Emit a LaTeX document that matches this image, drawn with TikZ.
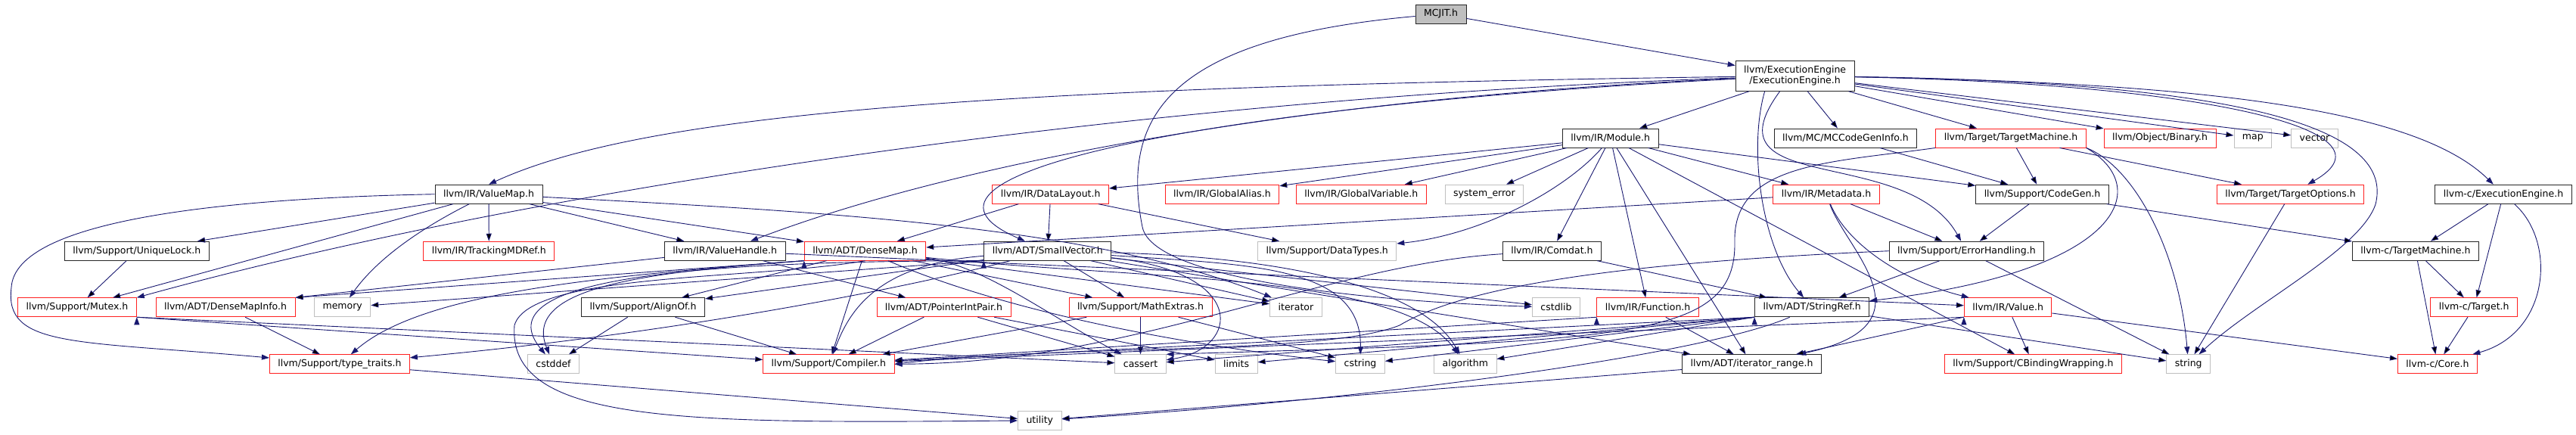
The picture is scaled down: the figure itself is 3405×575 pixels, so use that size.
\documentclass[tikz,border=0pt]{standalone}
\usepackage{fontspec}
\setmainfont{DejaVu Sans}
\usepackage{tikz}
\usetikzlibrary{arrows.meta,calc,positioning}
\definecolor{edgeblue}{HTML}{191970}
\definecolor{boxgray}{HTML}{BFBFBF}
\definecolor{boxred}{HTML}{FF2020}

\tikzset{
  hdr/.style={draw=black!85, line width=0.9pt, fill=white, minimum height=25pt,
    inner xsep=11pt, inner ysep=0pt, font=\fontsize{12.5}{14}\selectfont},
  trunc/.style={hdr, draw=boxred},
  sys/.style={hdr, draw=boxgray},
  dep/.style={draw=edgeblue, line width=0.9pt, -{Triangle[length=10pt,width=7pt]}}
}

\begin{document}
\begin{tikzpicture}[x=1pt,y=-1pt]
        \def\ya{18.5}
        \def\yb{100.3}
        \def\yc{182.5}
        \def\yd{256.7}
        \def\ye{331.7}
        \def\yf{406.3}
        \def\yg{481.3}
        \def\yh{555.7}
        \useasboundingbox (0,0) rectangle (3405,575);
        %Headers, top to bottom
        \node[hdr, fill=boxgray] (mcjit) at (1904.5,\ya) {MCJIT.h};
        \node[hdr, minimum height=40pt, align=center] (ee) at (2372.6,\yb) {llvm/ExecutionEngine\\/ExecutionEngine.h};
        \node[hdr] (module) at (2128.7,\yc) {llvm/IR/Module.h};
        \node[hdr] (mccg) at (2439.4,\yc) {llvm/MC/MCCodeGenInfo.h};
        \node[trunc] (tmach) at (2658,\yc) {llvm/Target/TargetMachine.h};
        \node[trunc] (binary) at (2855,\yc) {llvm/Object/Binary.h};
        \node[sys] (map) at (2977.8,\yc) {map};
        \node[sys] (vector) at (3059.5,\yc) {vector};
        \node[hdr] (vmap) at (646,\yd) {llvm/IR/ValueMap.h};
        \node[trunc] (dlayout) at (1388.7,\yd) {llvm/IR/DataLayout.h};
        \node[trunc] (galias) at (1615.4,\yd) {llvm/IR/GlobalAlias.h};
        \node[trunc] (gvar) at (1799.3,\yd) {llvm/IR/GlobalVariable.h};
        \node[sys] (syserr) at (1961.9,\yd) {system\_error};
        \node[trunc] (mdata) at (2414,\yd) {llvm/IR/Metadata.h};
        \node[hdr] (codegen) at (2699.5,\yd) {llvm/Support/CodeGen.h};
        \node[trunc] (topts) at (3027.5,\yd) {llvm/Target/TargetOptions.h};
        \node[hdr] (cee) at (3309,\yd) {llvm-c/ExecutionEngine.h};
        \node[hdr] (ulock) at (180.8,\ye) {llvm/Support/UniqueLock.h};
        \node[trunc] (tmdref) at (646.3,\ye) {llvm/IR/TrackingMDRef.h};
        \node[hdr] (vhandle) at (958.2,\ye) {llvm/IR/ValueHandle.h};
        \node[trunc] (dmap) at (1143.5,\ye) {llvm/ADT/DenseMap.h};
        \node[hdr] (svec) at (1384.8,\ye) {llvm/ADT/SmallVector.h};
        \node[sys] (dtypes) at (1754.2,\ye) {llvm/Support/DataTypes.h};
        \node[hdr] (comdat) at (2051.4,\ye) {llvm/IR/Comdat.h};
        \node[hdr] (errh) at (2599.4,\ye) {llvm/Support/ErrorHandling.h};
        \node[hdr] (ctm) at (3192.9,\ye) {llvm-c/TargetMachine.h};
        \node[trunc] (mutex) at (102,\yf) {llvm/Support/Mutex.h};
        \node[trunc] (dminfo) at (298.1,\yf) {llvm/ADT/DenseMapInfo.h};
        \node[sys] (memory) at (452.7,\yf) {memory};
        \node[hdr] (alignof) at (850.1,\yf) {llvm/Support/AlignOf.h};
        \node[trunc] (pip) at (1247.5,\yf) {llvm/ADT/PointerIntPair.h};
        \node[trunc] (mathx) at (1507.5,\yf) {llvm/Support/MathExtras.h};
        \node[sys] (iterator) at (1712.9,\yf) {iterator};
        \node[sys] (cstdlib) at (2057,\yf) {cstdlib};
        \node[trunc] (function) at (2178.1,\yf) {llvm/IR/Function.h};
        \node[hdr] (sref) at (2395.2,\yf) {llvm/ADT/StringRef.h};
        \node[trunc] (value) at (2654.1,\yf) {llvm/IR/Value.h};
        \node[trunc] (ctarget) at (3270.2,\yf) {llvm-c/Target.h};
        \node[trunc] (ttraits) at (448.9,\yg) {llvm/Support/type\_traits.h};
        \node[sys] (cstddef) at (731.5,\yg) {cstddef};
        \node[trunc] (compiler) at (1095.4,\yg) {llvm/Support/Compiler.h};
        \node[sys] (cassert) at (1507.5,\yg) {cassert};
        \node[sys] (limits) at (1634.1,\yg) {limits};
        \node[sys] (cstring) at (1798,\yg) {cstring};
        \node[sys] (algorithm) at (1936.8,\yg) {algorithm};
        \node[hdr] (irange) at (2315.5,\yg) {llvm/ADT/iterator\_range.h};
        \node[trunc] (cbind) at (2687.4,\yg) {llvm/Support/CBindingWrapping.h};
        \node[sys] (string) at (2892.7,\yg) {string};
        \node[trunc] (ccore) at (3221.9,\yg) {llvm-c/Core.h};
        \node[sys] (utility) at (1374.3,\yh) {utility};
        %MCJIT.h
        \draw[dep] (mcjit) -- (ee);
        \draw[dep] (mcjit) .. controls (1550,50) and (1480,150) .. (1510,300) .. controls (1525,375) and (1850,400) .. (cstdlib);
        %ExecutionEngine.h
        \path[dep] (ee) edge (module) edge (mccg) edge (tmach) edge (binary) edge (map) edge (vector);
        \draw[dep] (ee) .. controls (1300,115) and (850,150) .. (vmap.north);
        \draw[dep] (ee) .. controls (1500,130) and (700,250) .. (mutex.north east);
        \draw[dep] (ee) .. controls (1700,130) and (1250,220) .. (vhandle);
        \draw[dep] (ee) .. controls (1600,140) and (1150,230) .. (svec);
        \draw[dep] ([xshift=-40pt]ee.south) .. controls (2310,200) and (2330,330) .. (sref);
        \draw[dep] ([xshift=-20pt]ee.south) .. controls (2250,260) and (2520,190) .. (errh);
        \draw[dep] (ee) .. controls (2900,110) and (3180,170) .. (topts);
        \draw[dep] (ee) .. controls (3050,110) and (3160,190) .. (3140,270) .. controls (3120,330) and (2980,400) .. (string);
        \draw[dep] (ee) .. controls (2950,110) and (3200,150) .. (cee);
        %Module.h
        \path[dep] (module) edge (dlayout) edge (galias) edge (gvar) edge (syserr) edge (comdat)
          edge (function) edge (mdata) edge (codegen) edge (irange) edge (cbind);
        \draw[dep] (module) .. controls (2070,250) and (1960,310) .. (dtypes);
        %Target and CodeGen
        \path[dep] (mccg) edge (codegen);
        \path[dep] (tmach) edge (codegen) edge (topts);
        \draw[dep] (tmach.south east) .. controls (2850,250) and (2800,360) .. (sref);
        \draw[dep] (tmach.south east) .. controls (2820,220) and (2880,330) .. (string);
        \draw[dep] (tmach.south west) .. controls (2420,215) and (2290,215) .. (2293,320) .. controls (2295,450) and (2150,450) .. (cassert.north east);
        \path[dep] (topts) edge (string);
        \path[dep] (codegen) edge (errh) edge (ctm);
        %llvm-c
        \path[dep] (cee) edge (ctm) edge (ctarget);
        \draw[dep] (cee) .. controls (3380,320) and (3370,440) .. (ccore);
        \path[dep] (ctm) edge (ctarget) edge (ccore);
        \path[dep] (ctarget) edge (ccore);
        %Metadata.h and DataLayout.h
        \path[dep] (mdata) edge (dmap) edge (errh);
        \draw[dep] (mdata) .. controls (2440,330) and (2560,430) .. (irange);
        \draw[dep] (mdata) .. controls (2440,320) and (2510,370) .. (value);
        \path[dep] (dlayout) edge (dmap) edge (svec) edge (dtypes);
        %ValueMap.h
        \path[dep] (vmap) edge (dmap) edge (tmdref) edge (vhandle) edge (mutex) edge (ulock);
        \draw[dep] (vmap) .. controls (1100,280) and (1450,300) .. (iterator);
        \draw[dep] (vmap) .. controls (560,300) and (500,340) .. (memory);
        \draw[dep] (vmap.west) .. controls (300,262) and (20,290) .. (15,380) .. controls (5,460) and (100,450) .. (ttraits);
        \path[dep] (ulock) edge (mutex);
        \path[dep] (mutex.south east) edge (compiler) edge (cassert);
        \path[dep] (dminfo) edge (ttraits);
        %ValueHandle.h
        \path[dep] (vhandle) edge (dminfo.north east) edge (pip) edge (value);
        %DenseMap.h
        \path[dep] (dmap.south west) edge (dminfo.north east);
        \path[dep] (dmap) edge (alignof) edge (mathx) edge (compiler) edge (iterator);
        \draw[dep] (dmap.south west) .. controls (800,365) and (560,385) .. (ttraits);
        \draw[dep] (dmap.south west) .. controls (850,360) and (690,380) .. (cstddef);
        \draw[dep] (dmap) .. controls (1300,350) and (1390,420) .. (cassert);
        \draw[dep] (dmap) .. controls (1350,420) and (1600,460) .. (cstring);
        \draw[dep] (dmap) .. controls (1500,370) and (1850,360) .. (algorithm);
        \draw[dep] (dmap.south) .. controls (1000,370) and (700,360) .. (680,430) .. controls (670,560) and (900,560) .. (utility);
        %SmallVector.h
        \path[dep] (svec) edge (irange) edge (alignof) edge (mathx) edge (iterator) edge (cstdlib);
        \path[dep] (svec.south west) edge (memory);
        \draw[dep] (svec) .. controls (1150,350) and (1120,420) .. (compiler);
        \draw[dep] (svec) .. controls (1200,380) and (900,440) .. (ttraits);
        \draw[dep] (svec.south west) .. controls (900,345) and (640,370) .. (cstddef);
        \draw[dep] (svec) .. controls (1650,360) and (1640,460) .. (cassert);
        \draw[dep] (svec) .. controls (1650,350) and (1800,350) .. (cstring);
        \draw[dep] (svec) .. controls (1700,340) and (1880,380) .. (algorithm);
        %Support headers
        \path[dep] (mathx) edge (compiler) edge (cassert) edge (cstring);
        \path[dep] (pip) edge (compiler) edge (cassert) edge (limits);
        \path[dep] (alignof) edge (cstddef) edge (compiler);
        \path[dep] (comdat) edge (sref);
        \draw[dep] (comdat) .. controls (1750,350) and (1500,480) .. (compiler.east);
        \path[dep] (errh) edge (sref) edge (string);
        \draw[dep] (errh.west) .. controls (2200,345) and (1950,370) .. (1850,430) .. controls (1750,470) and (1400,455) .. (compiler.east);
        %StringRef.h and below
        \path[dep] (sref.south west) edge (compiler) edge (cassert) edge (limits) edge (cstring) edge (algorithm);
        \path[dep] (sref) edge (string);
        \draw[dep] (sref) .. controls (2250,470) and (1800,530) .. (utility);
        \path[dep] (irange) edge (utility);
        \path[dep] (ttraits) edge (utility);
        \path[dep] (function) edge (irange);
        \path[dep] (function.south west) edge (compiler);
        \path[dep] (value) edge (cbind) edge (irange) edge (ccore);
        \path[dep] (value.south west) edge (compiler);
      \end{tikzpicture}
\end{document}
